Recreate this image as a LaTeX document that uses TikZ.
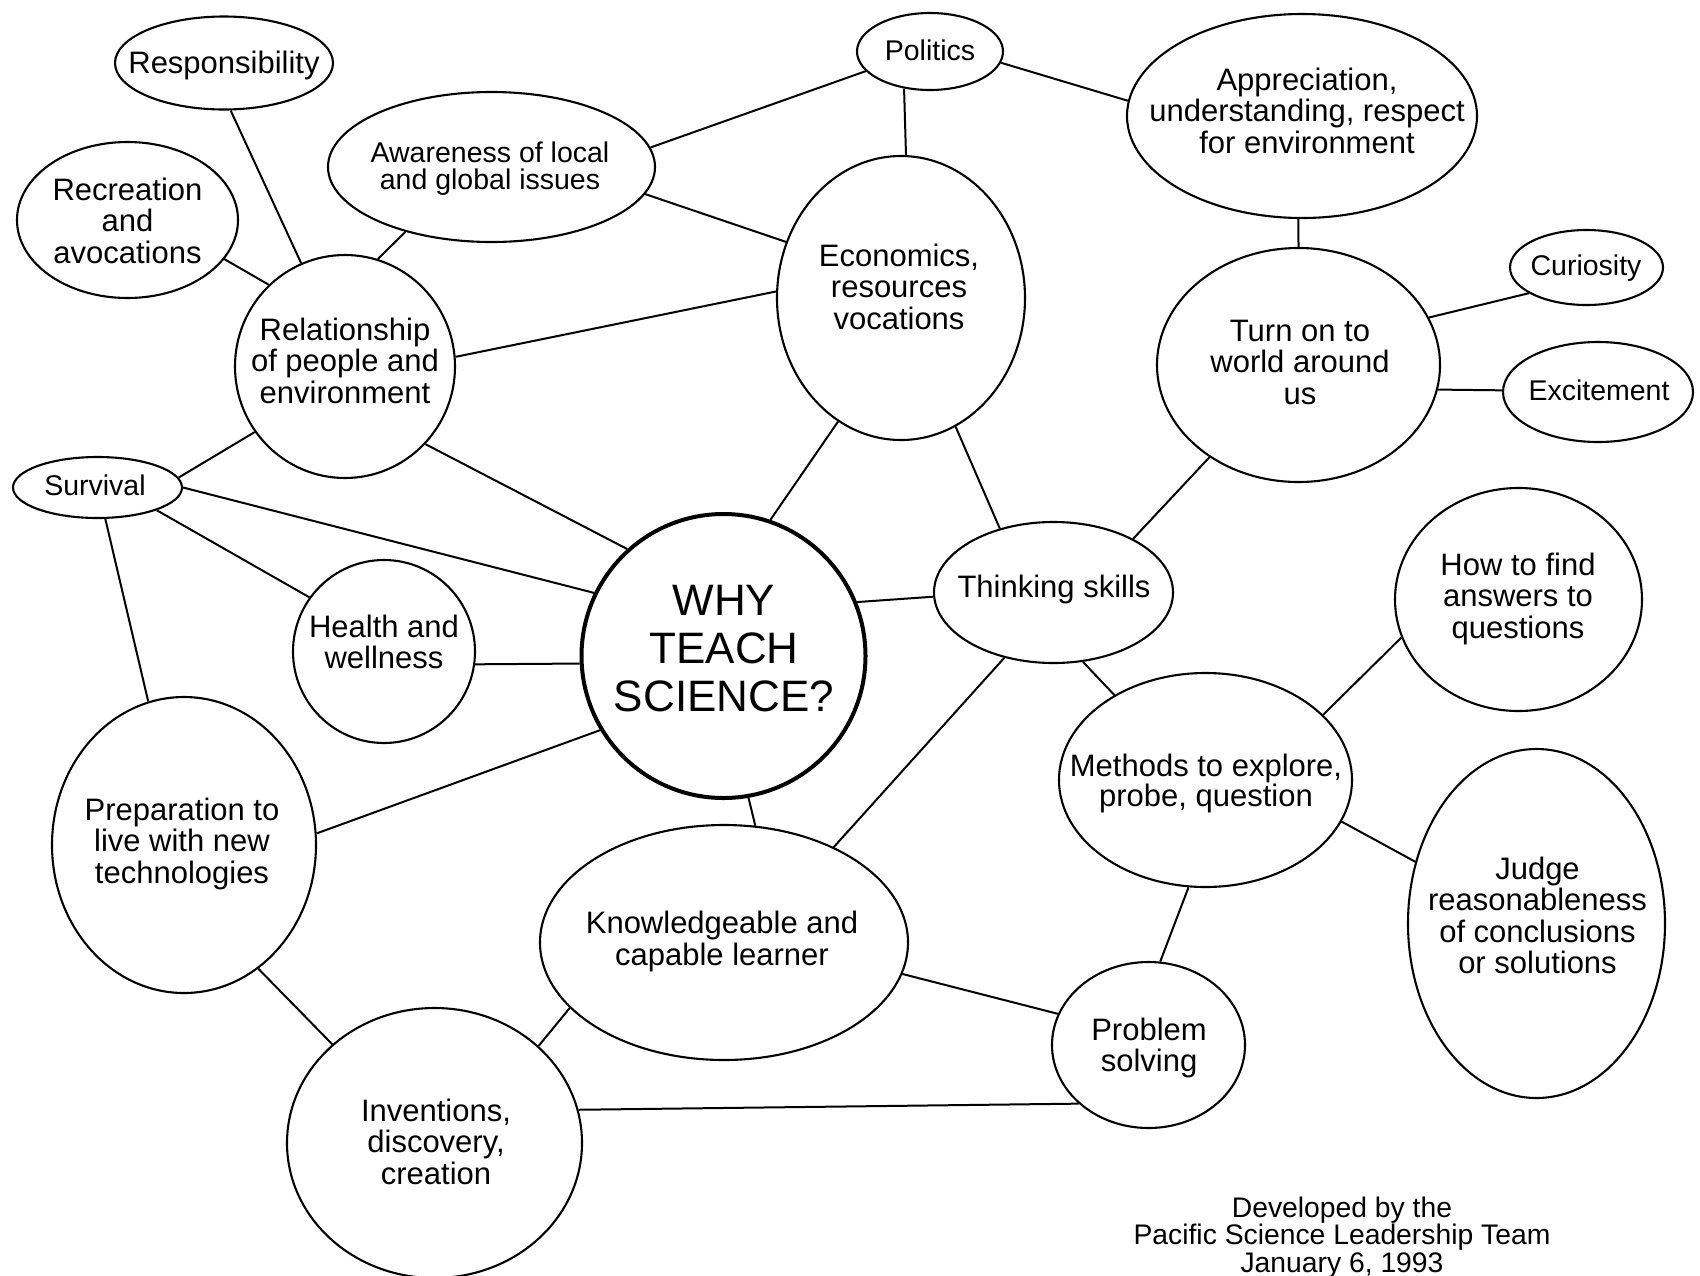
\documentclass[tikz,border=0pt]{standalone}
\usepackage{fontspec}
\setmainfont{Liberation Sans}
\usetikzlibrary{shapes.geometric}
\tikzset{
  bub/.style={ellipse, draw, line width=2.1pt, inner sep=0pt},
  core/.style={circle, draw, line width=4pt, inner sep=0pt},
  txt/.style={align=center, inner sep=0pt, anchor=base, font=\fontsize{31}{31.5}\selectfont},
  stxt/.style={txt, font=\fontsize{28.5}{27}\selectfont},
  mtxt/.style={txt, font=\fontsize{31}{26}\selectfont},
  wtxt/.style={txt, font=\fontsize{44}{48}\selectfont},
  ftxt/.style={txt, font=\fontsize{28.3}{27.5}\selectfont},
  link/.style={line width=2pt},
}
\begin{document}
\begin{tikzpicture}[x=1pt,y=-1pt]
\useasboundingbox (0,0) rectangle (1700,1275);
% bubbles
\node[bub, minimum width=218pt, minimum height=93pt]  (resp)   at (224,63) {};
\node[bub, minimum width=221pt, minimum height=156pt] (rec)    at (127.5,220) {};
\node[bub, minimum width=327pt, minimum height=150pt] (aware)  at (491.5,167) {};
\node[bub, minimum width=146pt, minimum height=77pt]  (pol)    at (930,51.5) {};
\node[bub, minimum width=350pt, minimum height=204pt] (apprec) at (1302,116) {};
\node[bub, minimum width=248pt, minimum height=284pt] (econ)   at (901,298) {};
\node[bub, minimum width=220pt, minimum height=223pt] (rel)    at (345,366.5) {};
\node[bub, minimum width=169pt, minimum height=61pt]  (sur)    at (97.5,487.5) {};
\node[bub, minimum width=182pt, minimum height=183pt] (health) at (384,651.5) {};
\node[core, minimum size=284pt]                       (why)    at (723.5,656) {};
\node[bub, minimum width=283pt, minimum height=234pt] (turn)   at (1298.5,365) {};
\node[bub, minimum width=153pt, minimum height=75pt]  (cur)    at (1586.5,267.5) {};
\node[bub, minimum width=190pt, minimum height=100pt] (exc)    at (1598,392) {};
\node[bub, minimum width=239pt, minimum height=141pt] (think)  at (1053.5,592.5) {};
\node[bub, minimum width=247pt, minimum height=223pt] (howto)  at (1518.5,599.5) {};
\node[bub, minimum width=293pt, minimum height=214pt] (meth)   at (1205.5,780) {};
\node[bub, minimum width=264pt, minimum height=296pt] (prep)   at (184,845) {};
\node[bub, minimum width=368pt, minimum height=235pt] (know)   at (724,942.5) {};
\node[bub, minimum width=257pt, minimum height=349pt] (judge)  at (1536.5,923.5) {};
\node[bub, minimum width=193pt, minimum height=166pt] (prob)   at (1148.5,1045) {};
\node[bub, minimum width=295pt, minimum height=270pt] (inv)    at (434.5,1143) {};
% texts (anchor = baseline of the last line)
\node[txt]  (resp-t)   at (224,73)      {Responsibility};
\node[txt]  (rec-t)    at (127.5,263)   {Recreation\\and\\avocations};
\node[stxt] (aware-t)  at (490,189.5)   {Awareness of local\\and global issues};
\node[stxt] (pol-t)    at (930,60)      {Politics};
\node[txt]  (apprec-t) at (1307,153)    {Appreciation,\\understanding, respect\\for environment};
\node[txt]  (econ-t)   at (899,329)     {Economics,\\resources\\vocations};
\node[txt]  (rel-t)    at (345,403)     {Relationship\\of people and\\environment};
\node[stxt] (sur-t)    at (95,495)      {Survival};
\node[txt]  (health-t) at (384,668.5)   {Health and\\wellness};
\node[wtxt] (why-t)    at (724,711)     {WHY\\TEACH\\SCIENCE?};
\node[txt]  (turn-t)   at (1300,404)    {Turn on to\\world around\\us};
\node[stxt] (cur-t)    at (1586,275)    {Curiosity};
\node[stxt] (exc-t)    at (1599,400)    {Excitement};
\node[txt]  (think-t)  at (1054,597)    {Thinking skills};
\node[txt]  (howto-t)  at (1518,638)    {How to find\\answers to\\questions};
\node[mtxt] (meth-t)   at (1206,806)    {Methods to explore,\\probe, question};
\node[txt]  (prep-t)   at (182,883)     {Preparation to\\live with new\\technologies};
\node[txt]  (know-t)   at (722,965)     {Knowledgeable and\\capable learner};
\node[txt]  (judge-t)  at (1537.5,973.5){Judge\\reasonableness\\of conclusions\\or solutions};
\node[txt]  (prob-t)   at (1149,1071.5) {Problem\\solving};
\node[txt]  (inv-t)    at (436,1184)    {Inventions,\\discovery,\\creation};
\node[ftxt] (foot)     at (1342,1272)   {Developed by the\\Pacific Science Leadership Team\\January 6, 1993};
% connectors
\draw[link] (resp.-82.8)   -- (rel.113.3);
\draw[link] (rec.-22.3)    -- (rel.133);
\draw[link] (aware.-143.8) -- (rel.73.4);
\draw[link] (aware.7.6)    -- (pol.197.2);
\draw[link] (aware.-10)    -- (econ.154.8);
\draw[link] (pol.-125.5)   -- (econ.88.8);
\draw[link] (pol.-9.1)     -- (apprec.175);
\draw[link] (apprec.-92.9) -- (turn.90.7);
\draw[link] (rel.5.9)      -- (econ.177.7);
\draw[link] (rel.-144.1)   -- (sur.7.1);
\draw[link] (rel.-44.5)    -- (why.132.3);
\draw[link] (econ.-117)    -- (why.71.3);
\draw[link] (econ.-67)     -- (think.130.7);
\draw[link] (turn.20.1)    -- (cur.204);
\draw[link] (turn.-10.4)   -- (exc.179.4);
\draw[link] (turn.-134.8)  -- (think.34.4);
\draw[link] (sur.0.3)      -- (why.154.4);
\draw[link] (sur.-21.5)    -- (health.144.9);
\draw[link] (sur.-76.2)    -- (prep.104.4);
\draw[link] (health.-8.4)  -- (why.183.5);
\draw[link] (why.22.4)     -- (think.182.6);
\draw[link] (why.211.9)    -- (prep.5.2);
\draw[link] (why.-80.3)    -- (know.75.2);
\draw[link] (think.-67.7)  -- (meth.137.1);
\draw[link] (think.-127.6) -- (know.41.5);
\draw[link] (meth.29.7)    -- (howto.198);
\draw[link] (meth.-17.5)   -- (judge.153.2);
\draw[link] (meth.-99.2)   -- (prob.82.1);
\draw[link] (know.-10.3)   -- (prob.161.3);
\draw[link] (know.203.9)   -- (inv.43.7);
\draw[link] (prep.-59)     -- (inv.136.6);
\draw[link] (inv.13.5)     -- (prob.220.7);
\end{tikzpicture}
\end{document}
